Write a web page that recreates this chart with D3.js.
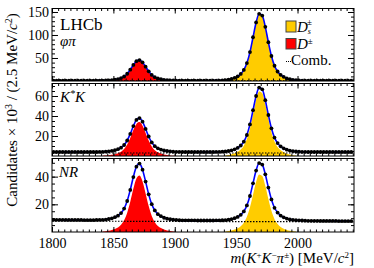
<!DOCTYPE html>
<html>
<head>
<meta charset="utf-8">
<script src="https://cdn.jsdelivr.net/npm/d3@7"></script>
<style>
body { margin: 0; background: #fff; }
svg { display: block; font-family: "Liberation Serif", "DejaVu Serif", serif; }
svg text { font-family: "Liberation Serif", "DejaVu Serif", serif; }
</style>
</head>
<body>
<div class="chart"></div>
<script>
//----------------------------------------------------------------------------------------------------------------------
// D(s) -> K K pi mass fits, three sub-samples
//----------------------------------------------------------------------------------------------------------------------

// bin centres (2.5 MeV bins) and the windows where the signal shapes are non-zero
var binCentres = d3.range(1801.25, 2045, 2.5);
var dpBins = d3.range(1841.25, 1902, 2.5);
var dsBins = d3.range(1941.25, 1999, 2.5);
var combMass = [1800, 2046];

var xMajor = [1800, 1850, 1900, 1950, 2000];
var xMinor = d3.range(1805, 2046, 5);

// phi pi  (candidates x 10^3)
var phiPiData = [0.6, 0.6, 0.6, 0.6, 0.6, 0.6, 0.6, 0.6, 0.6, 0.6, 0.6, 0.6, 0.6, 0.6, 0.7, 0.8,
  0.9, 1.1, 1.5, 2.1, 3.0, 4.2, 6.3, 9.8, 15.8, 24.6, 34.9, 43.1, 45.5, 40.7, 31.2, 21.1, 13.3, 8.3, 5.5, 3.8, 2.6, 1.9, 1.4, 1.1, 0.8,
  0.7, 0.6, 0.6, 0.6, 0.6, 0.6, 0.6, 0.6, 0.6, 0.6, 0.6, 0.7, 0.8, 1.0, 1.3,
  1.9, 3.0, 4.4, 6.8, 10.2, 15.3, 24.0, 39.0, 62.9, 95.1, 127.3, 146.1, 142.3, 117.8, 84.2, 54.3, 33.2, 20.7, 13.4, 9.0, 5.9, 3.8, 2.5, 1.8,
  1.2, 0.9, 0.7, 0.6, 0.6, 0.6, 0.6, 0.6, 0.6, 0.6, 0.6, 0.6, 0.6, 0.6, 0.6, 0.6, 0.6, 0.6];
var phiPiDp = [0.3, 0.5, 0.9, 1.5, 2.4, 3.6, 5.7, 9.2, 15.2, 24.0, 34.3, 42.5, 44.9, 40.1, 30.6, 20.5, 12.7, 7.7, 4.9, 3.2, 2.0, 1.3, 0.8, 0.5, 0.2];
var phiPiDs = [1.3, 2.4, 3.8, 6.2, 9.6, 14.7, 23.4, 38.4, 62.3, 94.5, 126.7, 145.5, 141.7, 117.2, 83.6, 53.7, 32.6, 20.1, 12.8, 8.4, 5.3, 3.2, 1.9, 1.2];
var phiPiComb = [0.5, 0.5];

// K* K
var kstKData = [4.0, 4.0, 4.0, 4.0, 4.0, 4.0, 4.0, 4.0, 4.0, 4.0, 4.0, 4.0, 4.0, 4.0, 4.0, 4.1,
  4.2, 4.4, 4.7, 5.2, 5.8, 6.8, 8.3, 11.0, 15.5, 22.1, 29.9, 36.1, 37.9, 34.3, 27.1, 19.5, 13.6, 9.8, 7.7, 6.4, 5.5, 5.0, 4.6, 4.3, 4.2,
  4.1, 4.0, 4.0, 4.0, 4.0, 4.0, 4.0, 4.0, 4.0, 4.0, 4.0, 4.0, 4.1, 4.2, 4.3,
  4.6, 5.0, 5.7, 6.7, 8.2, 10.5, 14.3, 21.0, 31.6, 45.8, 60.0, 68.4, 66.7, 55.8, 41.0, 27.7, 18.4, 12.9, 9.7, 7.7, 6.3, 5.4, 4.8, 4.5,
  4.3, 4.1, 4.1, 4.0, 4.0, 4.0, 4.0, 4.0, 4.0, 4.0, 4.0, 4.0, 4.0, 4.0, 4.0, 4.0, 4.0, 4.0];
var kstKDp = [0.2, 0.4, 0.7, 1.2, 1.8, 2.8, 4.3, 7.0, 11.5, 18.1, 25.9, 32.1, 33.9, 30.3, 23.1, 15.5, 9.6, 5.8, 3.7, 2.4, 1.5, 1.0, 0.6, 0.3, 0.2];
var kstKDs = [0.6, 1.0, 1.7, 2.7, 4.2, 6.5, 10.3, 17.0, 27.6, 41.8, 56.0, 64.4, 62.7, 51.8, 37.0, 23.7, 14.4, 8.9, 5.7, 3.7, 2.3, 1.4, 0.8, 0.5];
var kstKComb = [3.0, 3.0];

// non-resonant
var nrData = [8.8, 8.8, 8.8, 8.8, 8.7, 8.7, 8.7, 8.7, 8.7, 8.7, 8.6, 8.6, 8.6, 8.6, 8.7, 8.8,
  8.8, 9.0, 9.4, 9.9, 10.7, 11.8, 13.7, 16.9, 22.4, 30.4, 39.7, 47.2, 49.4, 45.0, 36.4, 27.2, 20.1, 15.6, 12.9, 11.4, 10.3, 9.6, 9.2, 8.9, 8.7,
  8.5, 8.4, 8.4, 8.4, 8.4, 8.4, 8.3, 8.3, 8.3, 8.3, 8.3, 8.3, 8.4, 8.4, 8.5,
  8.6, 8.9, 9.3, 10.0, 10.9, 12.4, 14.9, 19.2, 26.0, 35.2, 44.4, 49.8, 48.7, 41.7, 32.1, 23.5, 17.5, 14.0, 11.9, 10.6, 9.7, 9.1, 8.7, 8.5,
  8.4, 8.3, 8.2, 8.1, 8.1, 8.1, 8.1, 8.0, 8.0, 8.0, 8.0, 8.0, 8.0, 7.9, 7.9, 7.9, 7.9, 7.9];
var nrDp = [0.3, 0.5, 0.9, 1.4, 2.2, 3.3, 5.2, 8.4, 13.9, 21.9, 31.2, 38.7, 40.9, 36.5, 27.9, 18.7, 11.6, 7.1, 4.4, 2.9, 1.8, 1.1, 0.7, 0.4, 0.2];
var nrDs = [0.4, 0.7, 1.1, 1.8, 2.7, 4.2, 6.7, 11.0, 17.8, 27.0, 36.2, 41.6, 40.5, 33.5, 23.9, 15.3, 9.3, 5.8, 3.7, 2.4, 1.5, 0.9, 0.5, 0.3];
var nrComb = [7.9, 7.3];

var width = 374,
    height = 268;

var x = d3.scaleLinear().domain([1800, 2046]).range([52, 354]);

var svg = d3.select(".chart").append("svg")
  .attr("width", width)
  .attr("height", height);

var panels = [
  {top: 8.5, bottom: 81, ymax: 157.6, major: [50, 100, 150], minor: d3.range(10, 157, 10),
   data: phiPiData, dp: phiPiDp, ds: phiPiDs, comb: phiPiComb},
  {top: 83.5, bottom: 156, ymax: 72.5, major: [20, 40, 60], minor: d3.range(5, 72, 5),
   data: kstKData, dp: kstKDp, ds: kstKDs, comb: kstKComb},
  {top: 158.5, bottom: 232, ymax: 53.1, major: [20, 40], minor: d3.range(5, 53, 5),
   data: nrData, dp: nrDp, ds: nrDs, comb: nrComb}
];

function cleanAxis(g) {
  g.select(".domain").remove();
  g.attr("font-family", null).attr("font-size", null);
  g.selectAll("line").attr("stroke", "#000");
  g.selectAll("text").attr("fill", "#000").style("font-size", "14px");
}

panels.forEach(function(p, i) {
  var y = d3.scaleLinear().domain([0, p.ymax]).range([p.bottom, p.top]);
  var g = svg.append("g");

  g.append("clipPath").attr("id", "clip" + i)
    .append("rect")
    .attr("x", x(1800)).attr("y", p.top)
    .attr("width", x(2046) - x(1800)).attr("height", p.bottom - p.top);

  var plot = g.append("g").attr("clip-path", "url(#clip" + i + ")");

  var area = d3.area()
    .x(function(d) { return x(d[0]); })
    .y0(y(0))
    .y1(function(d) { return y(d[1]); })
    .curve(d3.curveMonotoneX);

  plot.append("path")
    .datum(d3.zip(dsBins, p.ds))
    .attr("d", area)
    .attr("fill", "#ffcc00");

  plot.append("path")
    .datum(d3.zip(dpBins, p.dp))
    .attr("d", area)
    .attr("fill", "#ff0000");

  plot.append("path")
    .datum(d3.zip(combMass, p.comb))
    .attr("d", d3.line().x(function(d) { return x(d[0]); }).y(function(d) { return y(d[1]); }))
    .attr("fill", "none")
    .attr("stroke", "#000")
    .attr("stroke-width", 1.2)
    .attr("stroke-dasharray", "1.5,1.5");

  var pts = d3.zip(binCentres, p.data);

  plot.append("path")
    .datum(pts)
    .attr("d", d3.line()
      .x(function(d) { return x(d[0]); })
      .y(function(d) { return y(d[1]); })
      .curve(d3.curveMonotoneX))
    .attr("fill", "none")
    .attr("stroke", "#0000ff")
    .attr("stroke-width", 1.6);

  plot.selectAll("circle")
    .data(pts)
    .enter()
    .append("circle")
    .attr("cx", function(d) { return x(d[0]); })
    .attr("cy", function(d) { return y(d[1]); })
    .attr("r", 1.9)
    .attr("fill", "#000");

  // ticks, all pointing inwards
  g.append("g").attr("transform", "translate(0," + p.bottom + ")")
    .call(d3.axisBottom(x).tickValues(xMajor).tickSize(-5).tickPadding(6)
      .tickFormat(i == 2 ? d3.format("d") : function() { return ""; }))
    .call(cleanAxis);
  g.append("g").attr("transform", "translate(0," + p.bottom + ")")
    .call(d3.axisBottom(x).tickValues(xMinor).tickSize(-2.5).tickFormat(""))
    .call(cleanAxis);
  g.append("g").attr("transform", "translate(0," + p.top + ")")
    .call(d3.axisTop(x).tickValues(xMajor).tickSize(-5).tickFormat(""))
    .call(cleanAxis);
  g.append("g").attr("transform", "translate(0," + p.top + ")")
    .call(d3.axisTop(x).tickValues(xMinor).tickSize(-2.5).tickFormat(""))
    .call(cleanAxis);

  g.append("g").attr("transform", "translate(" + x(1800) + ",0)")
    .call(d3.axisLeft(y).tickValues(p.major).tickSize(-6).tickPadding(3))
    .call(cleanAxis);
  g.append("g").attr("transform", "translate(" + x(1800) + ",0)")
    .call(d3.axisLeft(y).tickValues(p.minor).tickSize(-3).tickFormat(""))
    .call(cleanAxis);
  g.append("g").attr("transform", "translate(" + x(2046) + ",0)")
    .call(d3.axisRight(y).tickValues(p.major).tickSize(-6).tickFormat(""))
    .call(cleanAxis);
  g.append("g").attr("transform", "translate(" + x(2046) + ",0)")
    .call(d3.axisRight(y).tickValues(p.minor).tickSize(-3).tickFormat(""))
    .call(cleanAxis);

  g.append("rect")
    .attr("x", x(1800)).attr("y", p.top)
    .attr("width", x(2046) - x(1800)).attr("height", p.bottom - p.top)
    .attr("fill", "none")
    .attr("stroke", "#000")
    .attr("stroke-width", 1);
});

// panel labels
svg.append("text").attr("x", 60).attr("y", 30).style("font-size", "17px").text("LHCb");
svg.append("text").attr("x", 60).attr("y", 46).style("font-size", "15px").style("font-style", "italic").text("\u03c6\u03c0");

var kk = svg.append("text").attr("x", 60).attr("y", 102).style("font-size", "15px").style("font-style", "italic");
kk.append("tspan").text("K");
kk.append("tspan").attr("baseline-shift", "super").style("font-size", "10px").text("*");
kk.append("tspan").text("K");

svg.append("text").attr("x", 59).attr("y", 177).style("font-size", "15px").style("font-style", "italic").text("NR");

// legend
var leg = svg.append("g");
leg.append("rect").attr("x", 286).attr("y", 21).attr("width", 10).attr("height", 11)
  .attr("fill", "#ffcc00").attr("stroke", "#444").attr("stroke-width", 1);
leg.append("rect").attr("x", 286).attr("y", 38.5).attr("width", 10).attr("height", 10.5)
  .attr("fill", "#ff0000").attr("stroke", "#444").attr("stroke-width", 1);
leg.append("line").attr("x1", 286).attr("x2", 291).attr("y1", 61.5).attr("y2", 61.5)
  .attr("stroke", "#000").attr("stroke-width", 1.2).attr("stroke-dasharray", "1,1");

var ds = leg.append("text").attr("x", 297).attr("y", 32).style("font-size", "15px");
ds.append("tspan").style("font-style", "italic").text("D");
ds.append("tspan").attr("baseline-shift", "-2").style("font-size", "8px").style("font-style", "italic").text("s");
ds.append("tspan").attr("dx", -4).attr("baseline-shift", "7").style("font-size", "9px").text("\u00b1");

var dp = leg.append("text").attr("x", 297).attr("y", 49).style("font-size", "15px");
dp.append("tspan").style("font-style", "italic").text("D");
dp.append("tspan").attr("baseline-shift", "5").style("font-size", "9px").text("\u00b1");

leg.append("text").attr("x", 291).attr("y", 65).style("font-size", "15px").text("Comb.");

// axis titles
var yt = svg.append("text")
  .attr("transform", "translate(17,110) rotate(-90)")
  .attr("text-anchor", "middle")
  .style("font-size", "15px");
yt.append("tspan").text("Candidates \u00d7 10");
yt.append("tspan").attr("baseline-shift", "super").style("font-size", "10px").text("3");
yt.append("tspan").text(" / (2.5 MeV/");
yt.append("tspan").style("font-style", "italic").text("c");
yt.append("tspan").attr("baseline-shift", "super").style("font-size", "10px").text("2");
yt.append("tspan").text(")");

var xt = svg.append("text")
  .attr("x", 354).attr("y", 263)
  .attr("text-anchor", "end")
  .style("font-size", "15px");
xt.append("tspan").style("font-style", "italic").text("m");
xt.append("tspan").text("(");
xt.append("tspan").style("font-style", "italic").text("K");
xt.append("tspan").attr("baseline-shift", "5").style("font-size", "9px").text("+");
xt.append("tspan").style("font-style", "italic").text("K");
xt.append("tspan").attr("baseline-shift", "5").style("font-size", "9px").text("\u2212");
xt.append("tspan").style("font-style", "italic").text("\u03c0");
xt.append("tspan").attr("baseline-shift", "5").style("font-size", "9px").text("\u00b1");
xt.append("tspan").text(") [MeV/");
xt.append("tspan").style("font-style", "italic").text("c");
xt.append("tspan").attr("baseline-shift", "5").style("font-size", "9px").text("2");
xt.append("tspan").text("]");
</script>
</body>
</html>
